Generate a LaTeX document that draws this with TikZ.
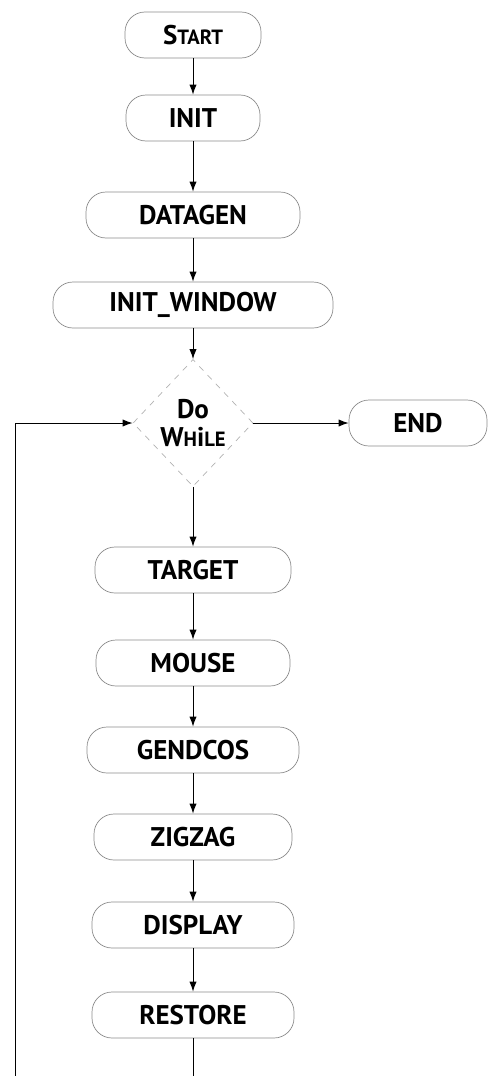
\documentclass[tikz,border=0pt]{standalone}
\usepackage{fontspec}
\setmainfont{PT Sans}
\usetikzlibrary{shapes.geometric,arrows.meta}

\tikzset{
	module/.style={rectangle,rounded corners=10pt,draw=black!45,line width=0.35pt,minimum height=23pt,inner sep=0pt,font=\bfseries\fontsize{13.5}{15}\selectfont},
	choix/.style={diamond,draw=black!30,dashed,line width=0.35pt,minimum width=60pt,minimum height=63.5pt,inner sep=0pt,align=center,font=\bfseries\fontsize{13.5}{14}\selectfont},
	fleche/.style={-{Latex[length=5pt,width=3.6pt]},line width=0.45pt},
}
\newcommand{\petit}[1]{{\fontsize{10.3}{10}\selectfont #1}}

\begin{document}
\begin{tikzpicture}[x=0.5pt,y=-0.5pt]
		\useasboundingbox (0,0) rectangle (490,1076);
		%\node (nom node) at(x,y) [options] {affichage} ;
		\node (start) at(193,35) [module,minimum width=68pt] {S\petit{TART}} ;
		\node (init) at(193,118) [module,minimum width=67pt] {INIT} ;
		\node (datagen) at(193,215) [module,minimum width=107pt] {DATAGEN} ;
		\node (initwin) at(193,305) [module,minimum width=140pt] {INIT\_WINDOW} ;
		\node (dowhile) at(193,423) [choix] {Do\\W\petit{H}i\petit{LE}} ;
		\node (fin) at(418,423) [module,minimum width=69pt] {END} ;
		\node (target) at(193,570) [module,minimum width=98pt] {TARGET} ;
		\node (mouse) at(193,663) [module,minimum width=97pt] {MOUSE} ;
		\node (gendcos) at(193,750) [module,minimum width=106pt] {GENDCOS} ;
		\node (zigzag) at(193,837) [module,minimum width=99pt] {ZIGZAG} ;
		\node (display) at(193,925) [module,minimum width=101pt] {DISPLAY} ;
		\node (restore) at(193,1015) [module,minimum width=101pt] {RESTORE} ;

		%bouts libres de la boucle
		\coordinate (bas) at(193,1076) ;
		\coordinate (bas gauche) at(15,1076) ;

		%\path (nom node A) edge[options] (nom node B);
		\path
		(start) edge[fleche] (init)
		(init) edge[fleche] (datagen)
		(datagen) edge[fleche] (initwin)
		(initwin) edge[fleche] (dowhile)
		(dowhile) edge[fleche] (fin)
		(dowhile) edge[fleche] (target)
		(target) edge[fleche] (mouse)
		(mouse) edge[fleche] (gendcos)
		(gendcos) edge[fleche] (zigzag)
		(zigzag) edge[fleche] (display)
		(display) edge[fleche] (restore)
		(restore) edge[line width=0.45pt] (bas)
		;
		\draw[fleche] (bas gauche) |- (dowhile) ;
\end{tikzpicture}
\end{document}
